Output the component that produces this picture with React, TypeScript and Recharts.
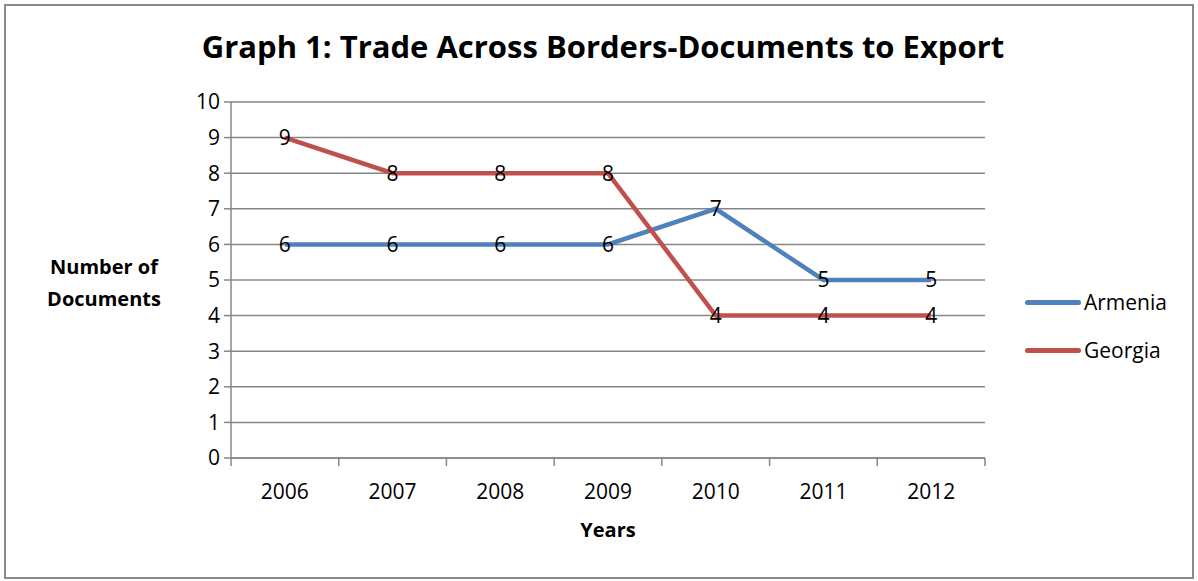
import { CartesianGrid, LabelList, Legend, Line, LineChart, XAxis, YAxis } from "recharts";

const years = ["2006", "2007", "2008", "2009", "2010", "2011", "2012"];
const armenia = [6, 6, 6, 6, 7, 5, 5];
const georgia = [9, 8, 8, 8, 4, 4, 4];
const yTicks = [0, 1, 2, 3, 4, 5, 6, 7, 8, 9, 10];

const data = years.map((year, i) => ({ year, Armenia: armenia[i], Georgia: georgia[i] }));

const FONT = "'Open Sans', sans-serif";
const AXIS = "#868686";
const PLOT_LEFT = 231;
const PLOT_RIGHT = 985;
const BAND = (PLOT_RIGHT - PLOT_LEFT) / years.length;
const LEGEND_W = 170;

function YearTick(props: any) {
  const { x, y, payload, index } = props;
  const left = x - BAND / 2;
  const right = x + BAND / 2;
  return (
    <g>
      {index === 0 && <line x1={left} x2={left} y1={y - 8} y2={y} stroke={AXIS} strokeWidth={1.5} />}
      <line x1={right} x2={right} y1={y - 8} y2={y} stroke={AXIS} strokeWidth={1.5} />
      <text x={x} y={y + 33} textAnchor="middle" fontFamily={FONT} fontSize={21} fill="#000">
        {payload.value}
      </text>
    </g>
  );
}

function LegendBox() {
  const items = [
    { name: "Armenia", color: "#4F81BD" },
    { name: "Georgia", color: "#C0504D" }
  ];
  return (
    <div style={{ fontFamily: FONT, fontSize: 21 }}>
      {items.map((it) => (
        <div key={it.name} style={{ display: "flex", alignItems: "center", height: 48 }}>
          <span style={{ display: "inline-block", width: 56, height: 5, borderRadius: 3, background: it.color, marginRight: 3 }} />
          <span style={{ color: "#000" }}>{it.name}</span>
        </div>
      ))}
    </div>
  );
}

export default function App() {
  return (
    <div style={{ position: "absolute", left: 0, top: 0, width: 1198, height: 581, background: "#fff" }}>
      <div
        style={{
          position: "absolute",
          left: 4,
          top: 4,
          width: 1186,
          height: 571,
          border: "2px solid #8a8a8a"
        }}
      />
      <div
        style={{
          position: "absolute",
          left: 0,
          width: 1206,
          top: 25,
          textAlign: "center",
          fontFamily: FONT,
          fontWeight: 700,
          fontSize: 31,
          color: "#000"
        }}
      >
        Graph 1: Trade Across Borders-Documents to Export
      </div>
      <div
        style={{
          position: "absolute",
          left: 14,
          width: 180,
          top: 251,
          textAlign: "center",
          fontFamily: FONT,
          fontWeight: 700,
          fontSize: 20,
          lineHeight: "32px",
          color: "#000"
        }}
      >
        Number of
        <br />
        Documents
      </div>
      <div
        style={{
          position: "absolute",
          left: 0,
          width: 1216,
          top: 516,
          textAlign: "center",
          fontFamily: FONT,
          fontWeight: 700,
          fontSize: 20,
          color: "#000"
        }}
      >
        Years
      </div>
      <LineChart
        width={1198}
        height={581}
        data={data}
        margin={{ top: 102, right: 1198 - PLOT_RIGHT - LEGEND_W, bottom: 123 - 60, left: PLOT_LEFT - 60 }}
        style={{ position: "absolute", left: 0, top: 0 }}
      >
        <CartesianGrid vertical={false} stroke={AXIS} strokeWidth={1.5} />
        <XAxis
          dataKey="year"
          scale="band"
          axisLine={{ stroke: AXIS, strokeWidth: 1.5 }}
          tickLine={false}
          tick={<YearTick />}
          height={60}
          interval={0}
        />
        <YAxis
          domain={[0, 10]}
          ticks={yTicks}
          width={60}
          axisLine={{ stroke: AXIS, strokeWidth: 1.5 }}
          tickLine={{ stroke: AXIS, strokeWidth: 1.5 }}
          tickSize={7}
          tickMargin={4}
          tick={{ fill: "#000", fontSize: 21, fontFamily: FONT }}
          interval={0}
        />
        <Legend
          layout="vertical"
          align="right"
          verticalAlign="top"
          content={<LegendBox />}
          wrapperStyle={{ left: 1025, top: 278, width: LEGEND_W }}
        />
        <Line type="linear" dataKey="Armenia" stroke="#4F81BD" strokeWidth={4.5} dot={false} isAnimationActive={false}>
          <LabelList dataKey="Armenia" position="center" fill="#000" fontSize={21} fontFamily={FONT} />
        </Line>
        <Line type="linear" dataKey="Georgia" stroke="#C0504D" strokeWidth={4.5} dot={false} isAnimationActive={false}>
          <LabelList dataKey="Georgia" position="center" fill="#000" fontSize={21} fontFamily={FONT} />
        </Line>
      </LineChart>
    </div>
  );
}
